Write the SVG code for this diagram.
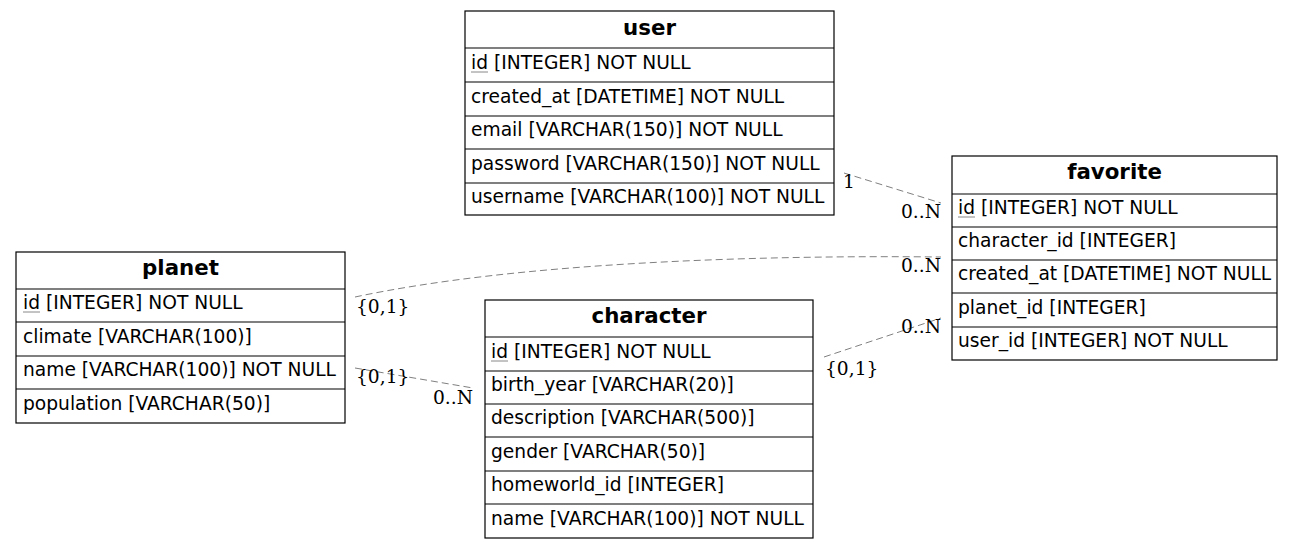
<svg xmlns="http://www.w3.org/2000/svg" width="1293" height="549" viewBox="0 0 1293 549">
<style>
.box{fill:#fff;stroke:#000;stroke-width:1.2}
.sep{stroke:#000;stroke-width:1.2}
.h{font-family:"DejaVu Sans",sans-serif;font-size:21.33px;font-weight:bold;text-anchor:middle;fill:#000}
.r{font-family:"DejaVu Sans",sans-serif;font-size:18.67px;fill:#000}
.u{stroke:#888;stroke-width:1}
.e{fill:none;stroke:#808080;stroke-width:1;stroke-dasharray:7,4}
.l{font-family:"DejaVu Serif",serif;font-size:18.67px;fill:#000}
.le{text-anchor:end}
</style>
<rect width="1293" height="549" fill="#fff"/>
<g id="edges">
<path class="e" d="M844,173 L941,203"/>
<path class="e" d="M355,297 C520,262 760,255 941,257"/>
<path class="e" d="M355,368 L473,388"/>
<path class="e" d="M824,357 L941,318"/>
<text class="l" x="843" y="188">1</text>
<text class="l le" x="941" y="218">0..N</text>
<text class="l le" x="941" y="272">0..N</text>
<text class="l" x="356" y="313">{0,1}</text>
<text class="l" x="356" y="383">{0,1}</text>
<text class="l le" x="473" y="404">0..N</text>
<text class="l le" x="941" y="333">0..N</text>
<text class="l" x="825" y="375">{0,1}</text>
</g>
<g id="user">
<rect class="box" x="465" y="11" width="369" height="204"/>
<line class="sep" x1="465" y1="48" x2="834" y2="48"/>
<line class="sep" x1="465" y1="82" x2="834" y2="82"/>
<line class="sep" x1="465" y1="116" x2="834" y2="116"/>
<line class="sep" x1="465" y1="149" x2="834" y2="149"/>
<line class="sep" x1="465" y1="183" x2="834" y2="183"/>
<text class="h" x="649.5" y="35">user</text>
<text class="r" x="471" y="69">id [INTEGER] NOT NULL</text>
<line class="u" x1="471" y1="72" x2="488" y2="72"/>
<text class="r" x="471" y="103">created_at [DATETIME] NOT NULL</text>
<text class="r" x="471" y="136">email [VARCHAR(150)] NOT NULL</text>
<text class="r" x="471" y="170">password [VARCHAR(150)] NOT NULL</text>
<text class="r" x="471" y="203">username [VARCHAR(100)] NOT NULL</text>
</g>
<g id="favorite">
<rect class="box" x="952" y="156" width="325" height="204"/>
<line class="sep" x1="952" y1="194" x2="1277" y2="194"/>
<line class="sep" x1="952" y1="227" x2="1277" y2="227"/>
<line class="sep" x1="952" y1="260" x2="1277" y2="260"/>
<line class="sep" x1="952" y1="293" x2="1277" y2="293"/>
<line class="sep" x1="952" y1="327" x2="1277" y2="327"/>
<text class="h" x="1114.5" y="179">favorite</text>
<text class="r" x="958" y="214">id [INTEGER] NOT NULL</text>
<line class="u" x1="958" y1="217" x2="975" y2="217"/>
<text class="r" x="958" y="247">character_id [INTEGER]</text>
<text class="r" x="958" y="280">created_at [DATETIME] NOT NULL</text>
<text class="r" x="958" y="314">planet_id [INTEGER]</text>
<text class="r" x="958" y="347">user_id [INTEGER] NOT NULL</text>
</g>
<g id="planet">
<rect class="box" x="16" y="252" width="329" height="171"/>
<line class="sep" x1="16" y1="289" x2="345" y2="289"/>
<line class="sep" x1="16" y1="322" x2="345" y2="322"/>
<line class="sep" x1="16" y1="356" x2="345" y2="356"/>
<line class="sep" x1="16" y1="389" x2="345" y2="389"/>
<text class="h" x="180.5" y="275">planet</text>
<text class="r" x="23" y="309">id [INTEGER] NOT NULL</text>
<line class="u" x1="23" y1="312" x2="40" y2="312"/>
<text class="r" x="23" y="343">climate [VARCHAR(100)]</text>
<text class="r" x="23" y="376">name [VARCHAR(100)] NOT NULL</text>
<text class="r" x="23" y="410">population [VARCHAR(50)]</text>
</g>
<g id="character">
<rect class="box" x="485" y="300" width="328" height="238"/>
<line class="sep" x1="485" y1="337" x2="813" y2="337"/>
<line class="sep" x1="485" y1="371" x2="813" y2="371"/>
<line class="sep" x1="485" y1="404" x2="813" y2="404"/>
<line class="sep" x1="485" y1="437" x2="813" y2="437"/>
<line class="sep" x1="485" y1="471" x2="813" y2="471"/>
<line class="sep" x1="485" y1="504" x2="813" y2="504"/>
<text class="h" x="649" y="323">character</text>
<text class="r" x="491" y="358">id [INTEGER] NOT NULL</text>
<line class="u" x1="491" y1="361" x2="508" y2="361"/>
<text class="r" x="491" y="391">birth_year [VARCHAR(20)]</text>
<text class="r" x="491" y="424">description [VARCHAR(500)]</text>
<text class="r" x="491" y="458">gender [VARCHAR(50)]</text>
<text class="r" x="491" y="491">homeworld_id [INTEGER]</text>
<text class="r" x="491" y="525">name [VARCHAR(100)] NOT NULL</text>
</g>
</svg>
